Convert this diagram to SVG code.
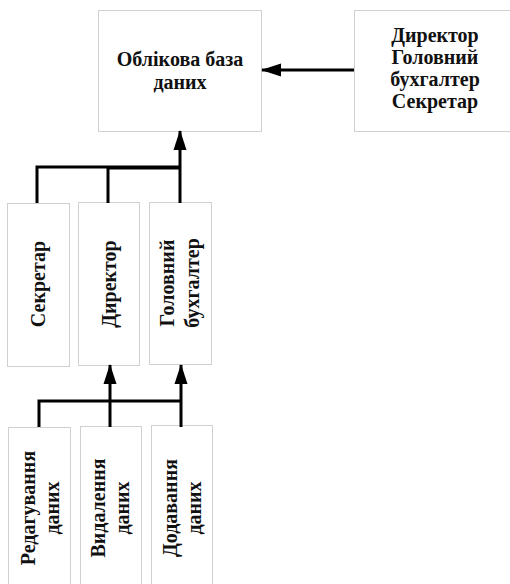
<svg xmlns="http://www.w3.org/2000/svg" width="510" height="584" viewBox="0 0 510 584">
<style>
.box{fill:#fff;stroke:#d0d0d0;stroke-width:1}
.t{font-family:"Liberation Serif","Times New Roman",serif;font-weight:bold;font-size:20px;fill:#111;text-anchor:middle}
.c{stroke:#000;stroke-width:3;fill:none}
</style>
<defs>
<marker id="ah" viewBox="0 0 20 13" refX="19" refY="6.5" markerWidth="20" markerHeight="13" markerUnits="userSpaceOnUse" orient="auto" overflow="visible">
<path d="M0,0 L20,6.5 L0,13 z" fill="#000"/>
</marker>
</defs>
<rect width="510" height="584" fill="#fff"/>
<g id="db">
<rect class="box" x="98.5" y="10.5" width="163" height="121"/>
<text class="t" x="180" y="66">Облікова база</text>
<text class="t" x="180" y="89">даних</text>
</g>
<g id="users">
<rect class="box" x="354.5" y="10.5" width="165" height="121"/>
<text class="t" x="435" y="42">Директор</text>
<text class="t" x="435" y="64">Головний</text>
<text class="t" x="435" y="86">бухгалтер</text>
<text class="t" x="435" y="108">Секретар</text>
</g>
<g id="secretar">
<rect class="box" x="7.5" y="203.5" width="62" height="163"/>
<text class="t" transform="translate(38,284) rotate(-90)" y="7">Секретар</text>
</g>
<g id="director">
<rect class="box" x="78.5" y="202.5" width="61" height="163"/>
<text class="t" transform="translate(109,284) rotate(-90)" y="7">Директор</text>
</g>
<g id="buh">
<rect class="box" x="149.5" y="202.5" width="62" height="162"/>
<text class="t" transform="translate(180,283) rotate(-90)" y="-6">Головний</text>
<text class="t" transform="translate(180,283) rotate(-90)" y="19">бухгалтер</text>
</g>
<g id="edit">
<rect class="box" x="8.5" y="427.5" width="62" height="170"/>
<text class="t" transform="translate(40,508) rotate(-90)" y="-5">Редагування</text>
<text class="t" transform="translate(40,508) rotate(-90)" y="19">даних</text>
</g>
<g id="delete">
<rect class="box" x="80.5" y="426.5" width="61" height="170"/>
<text class="t" transform="translate(110,508) rotate(-90)" y="-5">Видалення</text>
<text class="t" transform="translate(110,508) rotate(-90)" y="19">даних</text>
</g>
<g id="add">
<rect class="box" x="151.5" y="425.5" width="61" height="170"/>
<text class="t" transform="translate(182,508) rotate(-90)" y="-5">Додавання</text>
<text class="t" transform="translate(182,508) rotate(-90)" y="19">даних</text>
</g>
<g id="connectors">
<line class="c" x1="354" y1="70" x2="262" y2="70" marker-end="url(#ah)"/>
<path class="c" d="M37,203 V167 H180"/>
<path class="c" d="M108,203 V168 H180"/>
<line class="c" x1="180" y1="203" x2="180" y2="131" marker-end="url(#ah)"/>
<path class="c" d="M39,427 V401 H181"/>
<line class="c" x1="110" y1="427" x2="110" y2="365" marker-end="url(#ah)"/>
<line class="c" x1="181" y1="427" x2="181" y2="365" marker-end="url(#ah)"/>
</g>
</svg>
